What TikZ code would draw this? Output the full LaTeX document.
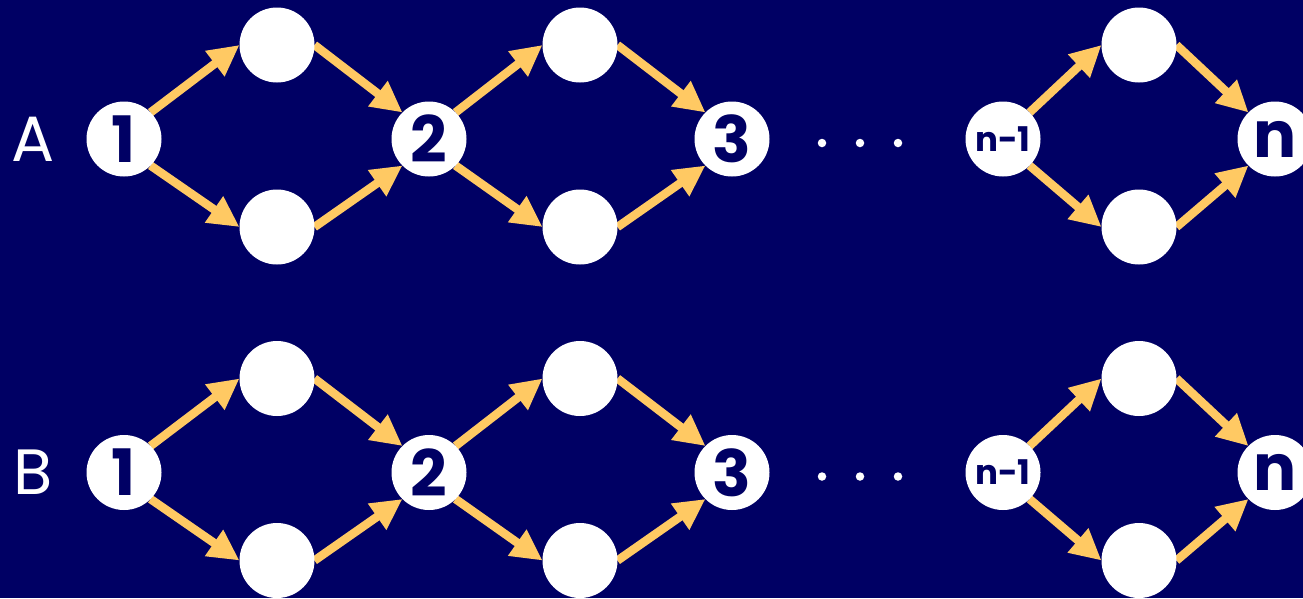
\documentclass[tikz,border=0pt]{standalone}
\usepackage{fontspec}
\setmainfont{Poppins}
\usetikzlibrary{arrows.meta}
\definecolor{navy}{HTML}{000064}
\definecolor{amber}{HTML}{FFC963}
\pgfdeclarelayer{background}
\pgfsetlayers{background,main}
\tikzset{
  disc/.style={circle, fill=white, inner sep=0pt, outer sep=0pt, minimum size=75pt},
  big/.style={disc, text=navy, font=\bfseries\fontsize{64}{64}\selectfont},
  small/.style={disc, text=navy, font=\bfseries\fontsize{34}{34}\selectfont},
  rowlabel/.style={text=white, inner sep=0pt, font=\fontsize{64}{64}\selectfont},
  dot/.style={circle, fill=white, inner sep=0pt, outer sep=0pt, minimum size=8.5pt},
  flow/.style={draw=amber, line width=8.5pt, -{Triangle[length=31pt,width=30pt]}}
}
\begin{document}
\begin{tikzpicture}[x=1pt, y=-1pt]
  \begin{pgfonlayer}{background}
    \fill[navy] (0,0) rectangle (1303,598);
  \end{pgfonlayer}
  \useasboundingbox (0,0) rectangle (1303,598);
  \foreach \r/\y in {A/139, B/472.5} {
    % row label
    \node[rowlabel] (\r-label) at (33,\y) {\r};
    % first diamond
    \node[big] (\r-1) at (124,\y) {1};
    \node[disc] (\r-1t) at (277,\y-94) {};
    \node[disc] (\r-1b) at (277,\y+88) {};
    % second diamond
    \node[big] (\r-2) at (429,\y) {2};
    \node[disc] (\r-2t) at (580,\y-94) {};
    \node[disc] (\r-2b) at (580,\y+88) {};
    \node[big] (\r-3) at (732,\y) {3};
    % ellipsis
    \node[dot] (\r-d1) at (822,\y+4) {};
    \node[dot] (\r-d2) at (860,\y+4) {};
    \node[dot] (\r-d3) at (898,\y+4) {};
    % last diamond
    \node[small] (\r-m) at (1003,\y) {n-1};
    \node[disc] (\r-mt) at (1139,\y-94) {};
    \node[disc] (\r-mb) at (1139,\y+88) {};
    \node[big] (\r-n) at (1275,\y) {n};
    % connectors
    \begin{pgfonlayer}{background}
      \draw[flow] (\r-1.north east) -- (\r-1t.west);
      \draw[flow] (\r-1.south east) -- (\r-1b.west);
      \draw[flow] (\r-1t.east) -- (\r-2.north west);
      \draw[flow] (\r-1b.east) -- (\r-2.south west);
      \draw[flow] (\r-2.north east) -- (\r-2t.west);
      \draw[flow] (\r-2.south east) -- (\r-2b.west);
      \draw[flow] (\r-2t.east) -- (\r-3.north west);
      \draw[flow] (\r-2b.east) -- (\r-3.south west);
      \draw[flow] (\r-m.north east) -- (\r-mt.west);
      \draw[flow] (\r-m.south east) -- (\r-mb.west);
      \draw[flow] (\r-mt.east) -- (\r-n.north west);
      \draw[flow] (\r-mb.east) -- (\r-n.south west);
    \end{pgfonlayer}
  }
\end{tikzpicture}
\end{document}
